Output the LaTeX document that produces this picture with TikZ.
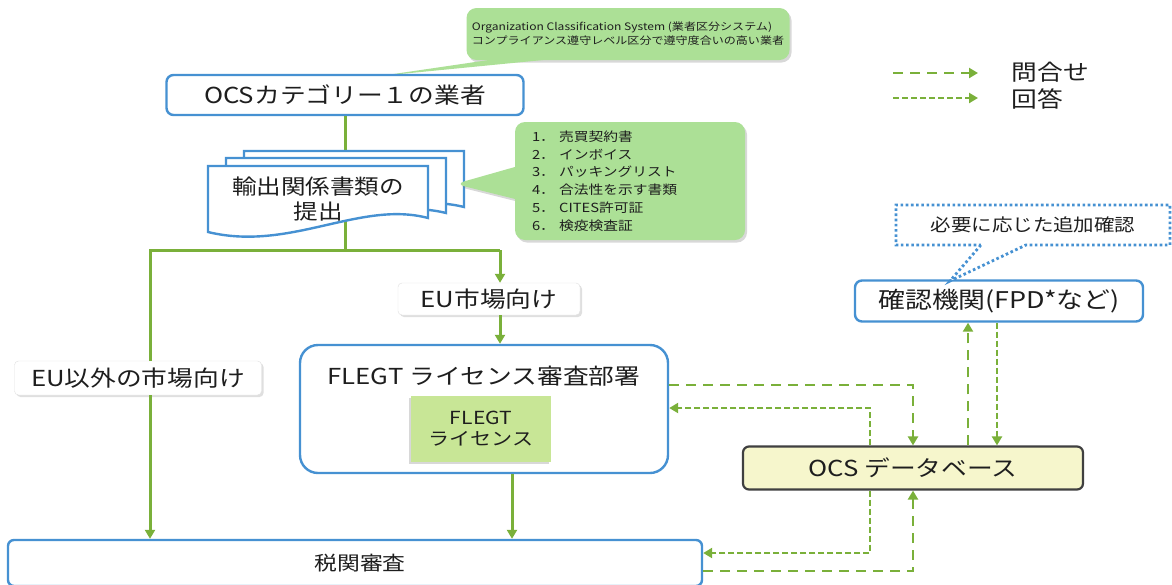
\documentclass[tikz,border=0pt]{standalone}
\usepackage{fontspec}
\setmainfont{Noto Sans CJK JP}[FakeStretch=1.17]
\usetikzlibrary{arrows.meta,shapes.callouts,shadows,calc}
\definecolor{lgreen}{RGB}{122,176,58}
\definecolor{bblue}{RGB}{70,145,210}
\definecolor{cgreen}{RGB}{172,224,150}
\definecolor{lic}{RGB}{200,230,150}
\definecolor{dbfill}{RGB}{246,246,204}
\definecolor{txt}{RGB}{30,30,30}
\newcommand\fbig{\fontsize{22}{26}\selectfont}
\newcommand\fsmall{\fontsize{10.3}{14}\selectfont}
\newcommand\flist{\fontsize{12.6}{17.8}\selectfont}
\tikzset{
  gline/.style={draw=lgreen, line width=3pt},
  garrow/.style={gline, -{Triangle[length=9pt,width=10pt]}},
  query/.style={draw=lgreen, line width=2.8pt, dash pattern=on 10pt off 7pt, -{Triangle[length=9pt,width=10pt]}},
  answer/.style={draw=lgreen, line width=2.8pt, dash pattern=on 6pt off 3pt, -{Triangle[length=9pt,width=10pt]}},
  bluebox/.style={draw=bblue, line width=2.4pt, fill=white, rounded corners=7pt, font=\fbig, text=txt, inner sep=0pt},
  labelbox/.style={draw=black!12, fill=white, rounded corners=4pt, font=\fbig, text=txt, inner sep=0pt,
    drop shadow={opacity=0.25, shadow xshift=2pt, shadow yshift=-2pt}},
  gcall/.style={rectangle callout, fill=cgreen, rounded corners=10pt, text=txt,
    drop shadow={opacity=0.3, shadow xshift=2pt, shadow yshift=-2.5pt}},
  gbox/.style={fill=cgreen, rounded corners=10pt, text=txt,
    drop shadow={opacity=0.3, shadow xshift=2pt, shadow yshift=-2.5pt}},
  docstyle/.style={draw=bblue, line width=2.4pt, fill=white},
}
\begin{document}
\begin{tikzpicture}[x=1pt,y=-1pt]
\useasboundingbox (0,0) rectangle (1172,584);
\fill[white] (0,0) rectangle (1172,584);

% top callout
\node[gbox, minimum width=323pt, minimum height=52pt, inner xsep=4pt, font=\fsmall, align=left] (topcall) at (628,34)
  {Organization Classification System (業者区分システム)\\コンプライアンス遵守レベル区分で遵守度合いの高い業者};
\coordinate (tip) at (380,76);
\fill[cgreen] ($(topcall.south west)+(28,-1)$) -- (tip) -- ($(topcall.south west)+(85,-1)$) -- cycle;

% OCS category 1
\node[bluebox, minimum width=357pt, minimum height=40pt] (ocs) at (345,95) {OCSカテゴリー１の業者};

% split point
\coordinate (split) at (345,250);
\coordinate (L) at (150,250);
\coordinate (R) at (500,250);
\draw[gline] (ocs.south) -- (split);

% documents
\filldraw[docstyle] (244,151) -- (464,151) -- (464,207) .. controls (396,190) and (326,236) .. (244,217) -- cycle;
\filldraw[docstyle] (226,158) -- (446,158) -- (446,213) .. controls (378,196) and (308,242) .. (226,224) -- cycle;
\filldraw[docstyle] (208,166) -- (428,166) -- (428,218) .. controls (360,200) and (290,252) .. (208,232) -- cycle;
\node[font=\fontsize{21}{25}\selectfont, text=txt, align=center] (docs) at (318,199) {輸出関係書類の\\提出};

% list callout
\node[gcall, minimum width=230pt, minimum height=118pt, font=\flist, align=left,
  text width=196pt, callout pointer width=32pt, callout absolute pointer={(455,184)}] (list) at (630,181)
  {1．\ 売買契約書\\2．\ インボイス\\3．\ パッキングリスト\\4．\ 合法性を示す書類\\5．\ CITES許可証\\6．\ 検疫検査証};

% legend
\coordinate (q1) at (893,73);
\coordinate (q2) at (978,73);
\coordinate (a1) at (893,98);
\coordinate (a2) at (978,98);
\draw[query] (q1) -- (q2);
\draw[answer] (a1) -- (a2);
\node[font=\fbig, text=txt, anchor=west] (lq) at (1008,72) {問合せ};
\node[font=\fbig, text=txt, anchor=west] (la) at (1008,99) {回答};

% market labels
\node[labelbox, minimum width=182pt, minimum height=32pt] (eu) at (489,299) {EU市場向け};
\node[labelbox, minimum width=247pt, minimum height=34pt] (noneu) at (138,378) {EU以外の市場向け};

% FLEGT
\node[draw=bblue, line width=2.4pt, fill=white, rounded corners=18pt, minimum width=368pt, minimum height=128pt] (flegt) at (484,409) {};
\node[font=\fbig, text=txt] (flegtt) at (484,376) {FLEGT ライセンス審査部署};
\node[fill=lic, minimum width=140pt, minimum height=66pt, font=\fontsize{18}{21}\selectfont, text=txt, align=center,
  drop shadow={opacity=0.3, shadow xshift=-2pt, shadow yshift=-2pt}] (lic) at (481,429) {FLEGT\\ライセンス};

% customs
\node[bluebox, rounded corners=6pt, minimum width=694pt, minimum height=46pt] (customs) at (355,563) {};
\node[font=\fontsize{19.5}{23}\selectfont, text=txt] (customst) at (360,563) {税関審査};

% FPD
\node[bluebox, minimum width=288pt, minimum height=41pt, font=\fontsize{23}{27}\selectfont] (fpd) at (999,301) {確認機関(FPD*など)};
\node[rectangle callout, draw=bblue, line width=2.8pt, dash pattern=on 2.6pt off 2.6pt, fill=white,
  minimum width=274pt, minimum height=40pt, font=\fontsize{17.5}{21}\selectfont, text=txt,
  callout pointer width=45pt,
  callout absolute pointer={(950,281)}] (extra) at (1033,225) {必要に応じた追加確認};

% OCS database
\node[draw=black!75, line width=2.2pt, fill=dbfill, rounded corners=6pt, minimum width=340pt, minimum height=43pt,
  font=\fbig, text=txt] (db) at (913,468) {OCS データベース};

% solid green flow
\draw[gline] (split) -- (L) -- (L |- noneu.north);
\draw[gline] (split) -- (R);
\draw[garrow] (R) -- (R |- eu.north);
\draw[garrow] (R |- eu.south) -- (R |- flegt.north);
\draw[garrow] (L |- noneu.south) -- (L |- customs.north);
\draw[garrow] (flegt.south -| 512,0) -- (customs.north -| 512,0);

% dashed connectors
\draw[query] (flegt.east |- 0,385) -| (db.north);
\draw[answer] (db.north -| 870,0) |- (flegt.east |- 0,408);
\draw[query] (db.north -| 968,0) -- (fpd.south -| 968,0);
\draw[answer] (fpd.south -| 997,0) -- (db.north -| 997,0);
\draw[answer] (db.south -| 870,0) |- (customs.east |- 0,553);
\draw[query] (customs.east |- 0,571) -| (db.south);
\end{tikzpicture}
\end{document}
